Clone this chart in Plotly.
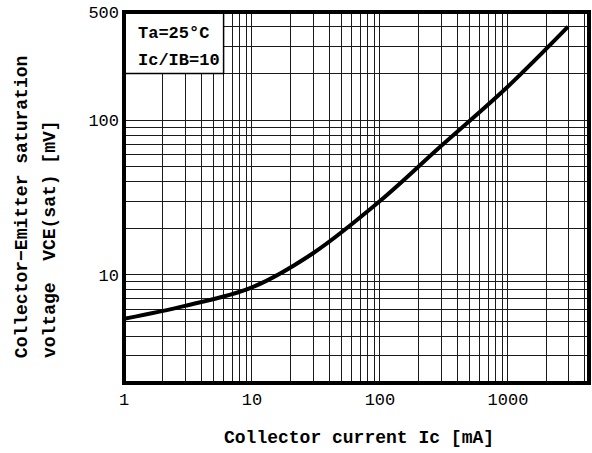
import numpy as np
import plotly.graph_objects as go

# Data
ic_mA = [1, 3, 10, 30, 100, 300, 1000, 2950]
vce_mV = [5.2, 6.3, 8.3, 13.8, 30, 68, 165, 402]

x_grid = [m * 10 ** e for e in range(0, 4) for m in range(1, 10) if m * 10 ** e <= 4000]
x_labels = {1: "1", 10: "10", 100: "100", 1000: "1000"}
y_grid = [m * 10 ** e for e in range(0, 3) for m in range(1, 10) if 2 <= m * 10 ** e <= 500]
y_labels = {10: "10", 100: "100", 500: "500"}

FONT = "Liberation Mono"

fig = go.Figure()
fig.add_trace(go.Scatter(x=ic_mA, y=vce_mV, mode="lines",
                         line=dict(color="black", width=4, shape="spline", smoothing=1.0),
                         showlegend=False, hoverinfo="skip"))

fig.update_layout(
    width=592, height=453,
    margin=dict(l=124, r=3, t=12, b=70, autoexpand=False),
    paper_bgcolor="white", plot_bgcolor="white",
    font=dict(family=FONT, size=16, color="black"),
    xaxis=dict(type="log", range=[0, np.log10(4300)], automargin=False,
               tickvals=x_grid, ticktext=[x_labels.get(v, "") for v in x_grid],
               showgrid=True, gridcolor="#1a1a1a", gridwidth=1.3,
               zeroline=False, showline=False, ticks="", ticklabeloverflow="allow",
               tickfont=dict(family=FONT, size=17), ticklabelstandoff=4),
    yaxis=dict(type="log", range=[np.log10(2), np.log10(500)], automargin=False,
               tickvals=y_grid, ticktext=[y_labels.get(v, "") for v in y_grid],
               showgrid=True, gridcolor="#1a1a1a", gridwidth=1.3,
               zeroline=False, showline=False, ticks="", ticklabeloverflow="allow",
               tickfont=dict(family=FONT, size=17), ticklabelstandoff=4),
)

# condition box
fig.add_shape(type="rect", xref="x", yref="y", x0=1, x1=6, y0=200, y1=500,
              fillcolor="white", line=dict(color="black", width=1.5), layer="above")
# frame
fig.add_shape(type="rect", xref="paper", yref="paper", x0=0, x1=1, y0=0, y1=1,
              line=dict(color="black", width=4), layer="above")

fig.add_annotation(xref="paper", yref="paper", x=0.026, y=0.943, xanchor="left", yanchor="middle",
                   text="<b>Ta=25°C</b>", showarrow=False, font=dict(family=FONT, size=17))
fig.add_annotation(xref="paper", yref="paper", x=0.026, y=0.87, xanchor="left", yanchor="middle",
                   text="<b>Ic/IB=10</b>", showarrow=False, font=dict(family=FONT, size=17))

fig.add_annotation(xref="paper", yref="paper", x=0.505, y=-0.147, xanchor="center", yanchor="middle",
                   text="<b>Collector current Ic [mA]</b>", showarrow=False,
                   font=dict(family=FONT, size=18))
fig.add_annotation(xref="paper", yref="paper", x=-0.219, y=0.062, xanchor="center", yanchor="bottom",
                   text="<b>Collector−Emitter saturation</b>", textangle=-90, showarrow=False,
                   font=dict(family=FONT, size=18))
fig.add_annotation(xref="paper", yref="paper", x=-0.159, y=0.062, xanchor="center", yanchor="bottom",
                   text="<b>voltage  VCE(sat) [mV]</b>", textangle=-90, showarrow=False,
                   font=dict(family=FONT, size=18))

fig.write_html("out.html", config={"displayModeBar": False},
               post_script="document.body.style.margin='0';document.body.style.overflow='hidden';")
